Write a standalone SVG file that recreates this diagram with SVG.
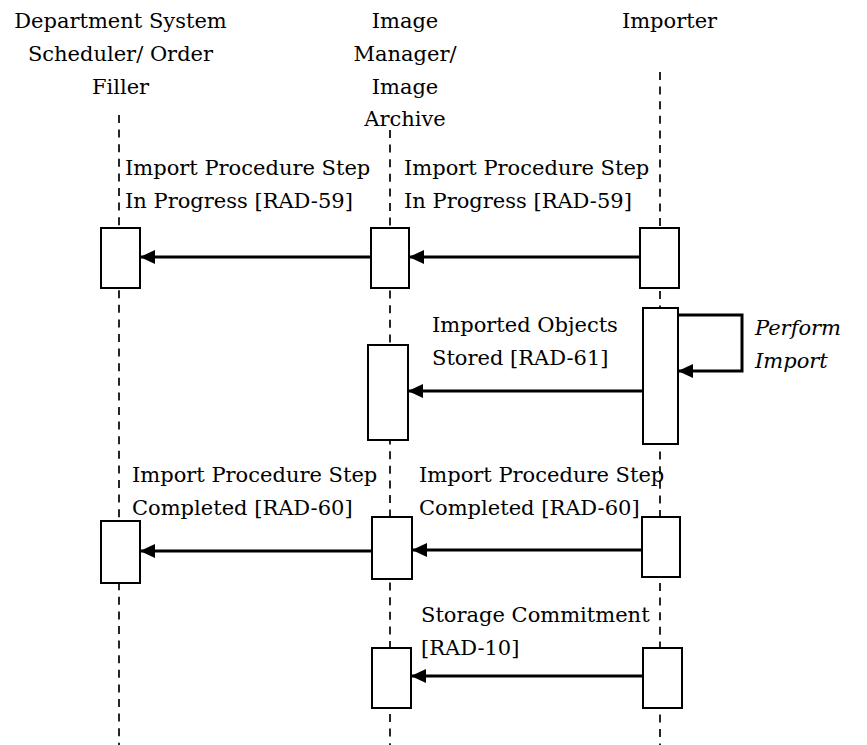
<svg xmlns="http://www.w3.org/2000/svg" width="867" height="745" viewBox="0 0 867 745">
<style>
text{font-family:"DejaVu Serif","Liberation Serif",serif;font-size:21px;fill:#000}
.hd{text-anchor:middle}
.it{font-style:italic}
.life{stroke:#000;stroke-width:1.7;stroke-dasharray:8 6.6;fill:none}
.act{fill:#fff;stroke:#000;stroke-width:2}
.msg{stroke:#000;stroke-width:3;fill:none}
</style>
<defs>
<marker id="ah" markerUnits="userSpaceOnUse" markerWidth="16" markerHeight="14" refX="15" refY="7" orient="auto">
<path d="M0,0 L15,7 L0,14 Z" fill="#000"/>
</marker>
</defs>
<rect width="867" height="745" fill="#fff"/>
<g id="lifelines">
<line class="life" x1="119" y1="115" x2="119" y2="745"/>
<line class="life" x1="390" y1="130" x2="390" y2="745"/>
<line class="life" x1="660" y1="72" x2="660" y2="745"/>
</g>
<g id="node-dss">
<text class="hd" x="120.5" y="28">Department System</text>
<text class="hd" x="120.5" y="61">Scheduler/ Order</text>
<text class="hd" x="120.5" y="94">Filler</text>
<rect class="act" x="101" y="228" width="39" height="60"/>
<rect class="act" x="101" y="521" width="39" height="62"/>
</g>
<g id="node-im">
<text class="hd" x="405" y="28">Image</text>
<text class="hd" x="405" y="61">Manager/</text>
<text class="hd" x="405" y="94">Image</text>
<text class="hd" x="405" y="126">Archive</text>
<rect class="act" x="371" y="228" width="38" height="60"/>
<rect class="act" x="368" y="345" width="40" height="95"/>
<rect class="act" x="372" y="517" width="40" height="62"/>
<rect class="act" x="372" y="648" width="39" height="60"/>
</g>
<g id="node-importer">
<text class="hd" x="669.5" y="28">Importer</text>
<rect class="act" x="640" y="228" width="39" height="60"/>
<rect class="act" x="643" y="308" width="35" height="136"/>
<rect class="act" x="642" y="517" width="38" height="60"/>
<rect class="act" x="643" y="648" width="39" height="60"/>
</g>
<g id="connectors">
<line class="msg" x1="371" y1="257" x2="140" y2="257" marker-end="url(#ah)"/>
<line class="msg" x1="640" y1="257" x2="409" y2="257" marker-end="url(#ah)"/>
<line class="msg" x1="643" y1="391" x2="408" y2="391" marker-end="url(#ah)"/>
<polyline class="msg" points="678,315 742,315 742,371 678,371" marker-end="url(#ah)"/>
<line class="msg" x1="372" y1="551" x2="140" y2="551" marker-end="url(#ah)"/>
<line class="msg" x1="642" y1="550" x2="412" y2="550" marker-end="url(#ah)"/>
<line class="msg" x1="643" y1="676" x2="411" y2="676" marker-end="url(#ah)"/>
</g>
<g id="labels">
<text x="125" y="175">Import Procedure Step</text>
<text x="125" y="208">In Progress [RAD-59]</text>
<text x="404" y="175">Import Procedure Step</text>
<text x="404" y="208">In Progress [RAD-59]</text>
<text x="432" y="332">Imported Objects</text>
<text x="432" y="365">Stored [RAD-61]</text>
<text class="it" x="755" y="335">Perform</text>
<text class="it" x="755" y="368">Import</text>
<text x="132" y="482">Import Procedure Step</text>
<text x="132" y="515">Completed [RAD-60]</text>
<text x="419" y="482">Import Procedure Step</text>
<text x="419" y="515">Completed [RAD-60]</text>
<text x="421" y="622">Storage Commitment</text>
<text x="421" y="655">[RAD-10]</text>
</g>
</svg>
